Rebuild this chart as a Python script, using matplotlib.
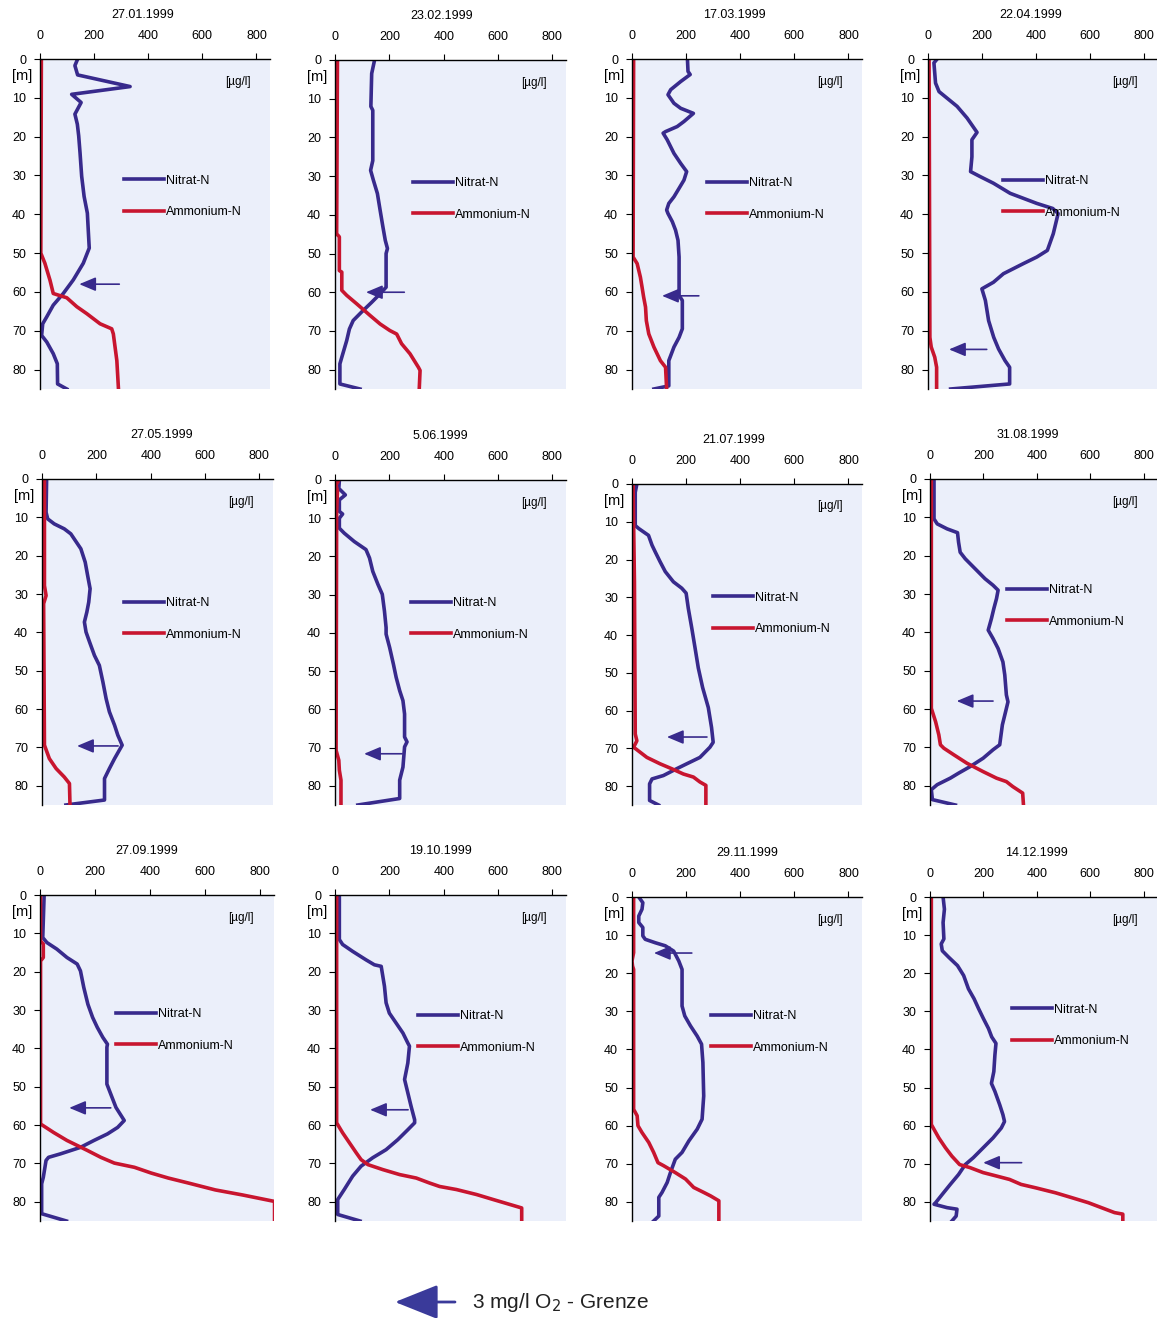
import matplotlib
matplotlib.use('Agg')
import matplotlib.pyplot as plt
from matplotlib.patches import FancyArrowPatch

plt.rcParams['font.family'] = ['Liberation Sans', 'DejaVu Sans']

#######################################################################
# Profile data: depth [m] and concentration [ug/l]
#######################################################################
dates = ['27.01.1999', '23.02.1999', '17.03.1999', '22.04.1999',
         '27.05.1999', '5.06.1999', '21.07.1999', '31.08.1999',
         '27.09.1999', '19.10.1999', '29.11.1999', '14.12.1999']

nitrat_depth = [
    [0.2, 1.7, 4.1, 7.1, 9.1, 11.2, 14.2, 16.8, 19.8, 24.2, 30.2, 35.4, 39.7, 44.9, 48.7, 52.6, 56.9, 60.4, 63.4, 66.4, 68.2, 71.2, 72.9, 75.9, 78.5, 83.7, 85],
    [0.2, 3.5, 12, 13, 26, 28.5, 31, 34.5, 38.8, 43, 46.6, 48.7, 50, 58.7, 60.4, 62.6, 65.1, 67.3, 69.5, 72.5, 76.8, 78.5, 83.7, 85],
    [0.2, 3.2, 4, 5.8, 7.9, 9.2, 11.4, 12.7, 14, 16.1, 17.4, 18.7, 19.1, 20.8, 24.3, 26.9, 29, 31.2, 33.3, 35.5, 37.2, 38.9, 39.8, 41.9, 44.1, 46.7, 51, 60.9, 62.2, 69.5, 71.7, 74.2, 77.7, 84.2, 85],
    [0, 1, 6.2, 8.4, 10.1, 12.2, 15.2, 18.9, 20.8, 25.2, 29, 30.3, 32, 34.6, 37.2, 38.5, 39.8, 45, 49.3, 51, 52.7, 55.3, 57.5, 59.2, 62.2, 67.4, 71.7, 74.7, 77.7, 79.4, 83.7, 85],
    [0, 8.7, 10.4, 11.7, 13, 14.3, 18.2, 21.7, 25.2, 28.6, 32.1, 34.7, 37.3, 39.9, 42.5, 46, 48.6, 52.9, 57.3, 60.7, 64.2, 66.8, 69.4, 72.9, 75.5, 78.1, 83.7, 85],
    [0.2, 2.2, 3.9, 5.2, 8.2, 8.9, 10, 12.6, 13.9, 16.1, 18.2, 20.4, 23.9, 27.3, 29.9, 34.3, 38.6, 40.3, 43.8, 48.2, 51.6, 55.1, 57.7, 61.2, 67.2, 68.5, 69.8, 75.1, 78.5, 83.3, 85],
    [0, 2.2, 11, 11.8, 13.6, 16.2, 18, 20.6, 23.2, 25.9, 27.6, 28.9, 32.9, 38.2, 43.4, 48.7, 53.9, 59.2, 64.5, 68.4, 69.7, 72.4, 74.1, 75.4, 77.2, 78.1, 79.4, 83.8, 85],
    [0, 10.4, 11.7, 13, 14, 16.5, 19.1, 20.8, 23.4, 26, 27.7, 29, 31.2, 33.8, 36.4, 39.4, 41.6, 44.2, 47.7, 51.1, 56.3, 58.1, 60.7, 64.1, 69.3, 70.6, 72.8, 75, 76.7, 78, 79.7, 81, 83.6, 85],
    [0, 11.1, 12.4, 14.1, 16.3, 18, 19.8, 24.1, 28.5, 31.9, 34.5, 37.1, 38.9, 39.7, 49.3, 51.9, 55.4, 58.8, 60.6, 62.3, 64, 65.8, 67.5, 68.4, 69.2, 73.6, 75.3, 83.1, 85],
    [0, 11.6, 12.9, 14.7, 16.9, 18.2, 18.6, 23.8, 28.1, 30.8, 33.4, 36, 38.6, 39.4, 43.8, 48.1, 51.6, 55.1, 58.6, 59.4, 61.2, 63.8, 66.4, 68.5, 70.7, 73.3, 76.8, 79.4, 83.3, 85],
    [0, 1.5, 3.2, 5, 6.7, 8, 10.2, 11.1, 12, 12.8, 14.2, 16.8, 19, 28.6, 31.2, 33.8, 36.5, 38.6, 43.4, 52.2, 58.3, 60.9, 64, 67, 68.8, 72.3, 74.9, 77.5, 78.8, 83.7, 85],
    [0, 3.2, 6.7, 11, 12.3, 14.1, 15.8, 18, 20.6, 24.1, 26.7, 29.3, 31.9, 34.5, 36.7, 38.4, 41.5, 45.8, 48.9, 51, 54.5, 57.1, 58.9, 60.6, 63.2, 65.8, 68.4, 70.2, 72.8, 75.4, 78, 80.2, 80.6, 81.5, 81.9, 83.7, 85],
]
nitrat_value = [
    [138, 129, 139, 333, 117, 152, 129, 138, 143, 148, 154, 163, 175, 179, 182, 160, 123, 86, 49, 25, 10, 6, 25, 49, 64, 65, 99],
    [145, 135, 132, 139, 139, 131, 141, 156, 166, 176, 185, 193, 188, 188, 166, 135, 98, 67, 53, 43, 25, 18, 18, 92],
    [205, 207, 215, 180, 143, 133, 155, 180, 227, 192, 167, 124, 115, 130, 155, 180, 202, 192, 174, 155, 136, 128, 133, 149, 161, 170, 174, 174, 186, 186, 174, 155, 136, 136, 81],
    [34, 22, 28, 41, 71, 108, 145, 182, 163, 163, 158, 194, 243, 305, 404, 463, 483, 465, 443, 404, 354, 280, 243, 200, 213, 225, 244, 262, 286, 303, 303, 84],
    [17, 15, 21, 45, 82, 106, 143, 159, 168, 177, 172, 165, 156, 162, 175, 193, 211, 224, 236, 248, 267, 279, 295, 267, 248, 230, 230, 88],
    [16, 14, 38, 16, 16, 28, 16, 16, 34, 71, 114, 127, 139, 158, 174, 182, 188, 188, 201, 215, 225, 238, 250, 256, 256, 265, 256, 250, 238, 238, 84],
    [18, 12, 12, 25, 61, 74, 86, 104, 123, 153, 184, 200, 208, 221, 233, 245, 261, 282, 294, 300, 288, 251, 202, 165, 116, 74, 65, 65, 98],
    [15, 15, 27, 64, 103, 107, 113, 132, 169, 206, 236, 255, 249, 239, 230, 218, 236, 255, 273, 280, 286, 292, 283, 271, 261, 236, 199, 150, 107, 76, 27, 5, 9, 95],
    [15, 10, 25, 61, 98, 135, 147, 159, 174, 191, 208, 228, 245, 243, 243, 257, 276, 306, 282, 245, 196, 147, 74, 31, 22, 12, 6, 6, 96],
    [16, 16, 28, 65, 114, 145, 170, 182, 188, 200, 225, 250, 268, 274, 268, 256, 268, 280, 293, 293, 268, 231, 188, 139, 96, 65, 34, 10, 10, 92],
    [25, 40, 37, 25, 25, 40, 40, 49, 86, 123, 154, 173, 185, 185, 195, 216, 241, 257, 262, 265, 259, 241, 210, 185, 160, 142, 130, 111, 99, 99, 80],
    [49, 54, 49, 52, 42, 46, 70, 103, 126, 144, 165, 182, 200, 219, 231, 247, 243, 239, 230, 243, 261, 273, 279, 267, 236, 199, 162, 132, 107, 76, 46, 21, 15, 64, 101, 98, 82],
]

ammonium_depth = [
    [0, 50, 52.6, 57, 60.4, 61.5, 63.8, 65.6, 68.2, 69.5, 70.8, 77.7, 85],
    [0, 44.9, 45.7, 54.4, 54.8, 59.5, 60.8, 63, 66, 68.2, 69.9, 70.8, 73.3, 75.9, 79.4, 80.2, 85],
    [0, 51, 52.7, 56.2, 58.7, 61.3, 63.9, 67.4, 70.8, 74.2, 77.7, 79.4, 85],
    [0, 71.7, 74.2, 76.8, 79.4, 85],
    [0, 27.8, 30.4, 32.5, 69.4, 72.9, 75.5, 77.7, 79.4, 85],
    [0, 1.3, 3, 8.2, 70.7, 73.3, 75.9, 78.5, 85],
    [0, 25.9, 66.2, 68, 69.7, 72.4, 74.1, 75.4, 76.8, 77.6, 78.9, 79.8, 85],
    [0, 59.8, 63.3, 66.7, 69.3, 70.2, 71.9, 74.1, 76.3, 78, 78.9, 80.2, 81.9, 85],
    [0, 12, 12.8, 16.3, 17.2, 59.7, 61.9, 64, 66.6, 68.4, 69.9, 71, 72.5, 73.8, 75.1, 76.9, 78.2, 79.9, 85],
    [0, 59.4, 62, 64.6, 67.2, 69, 70.3, 71.6, 72.9, 73.8, 75.1, 76, 76.8, 78.1, 79.4, 80.7, 81.6, 85],
    [0, 14.6, 16.8, 18.1, 19, 55.7, 57.4, 60, 61.8, 64.4, 67, 69.7, 70.5, 72.3, 74, 76.2, 77.5, 78.4, 79.7, 85],
    [0, 59.7, 63.2, 65.8, 68, 70.2, 71, 72.3, 73.2, 74.1, 75.4, 76.3, 77.6, 78.9, 80.2, 81.5, 82.8, 83.2, 85],
]
ammonium_value = [
    [5, 3, 18, 37, 49, 99, 136, 173, 222, 265, 271, 284, 290],
    [9, 6, 16, 16, 25, 25, 43, 80, 129, 166, 202, 227, 245, 276, 307, 313, 310],
    [6, 4, 19, 31, 37, 43, 50, 53, 62, 81, 105, 124, 128],
    [4, 7, 12, 25, 32, 32],
    [9, 9, 15, 6, 9, 27, 52, 82, 101, 103],
    [14, 4, 9, 6, 4, 14, 16, 22, 22],
    [4, 9, 12, 18, 6, 55, 104, 147, 190, 227, 251, 273, 273],
    [5, 5, 21, 33, 39, 52, 89, 138, 199, 249, 286, 310, 347, 350],
    [2, 2, 12, 12, 2, 2, 49, 98, 172, 221, 270, 343, 404, 466, 539, 637, 735, 852, 852],
    [6, 6, 28, 53, 78, 96, 121, 176, 238, 299, 348, 385, 447, 521, 582, 644, 687, 687],
    [6, 6, 0, 2, 6, 6, 19, 22, 37, 62, 80, 96, 117, 160, 198, 228, 265, 290, 321, 321],
    [5, 5, 33, 58, 82, 111, 150, 199, 249, 298, 341, 396, 470, 532, 593, 642, 691, 722, 722],
]

# 3 mg/l O2 boundary: depth and arrow extent (tip, tail) in ug/l units
o2_depth = [58.0, 60.0, 61.0, 74.8, 69.6, 71.6, 67.0, 57.9, 55.5, 56.0, 14.7, 69.7]
arrow_tip = [145, 114, 111, 78, 129, 107, 129, 100, 106, 129, 81, 199]
arrow_tail = [293, 255, 247, 218, 280, 247, 277, 236, 257, 269, 221, 343]

#######################################################################
# Layout (pixel boxes: left, top, right, bottom)
#######################################################################
W, H = 1157, 1318
boxes = [(40, 59, 270, 389), (335, 60, 566, 389), (632, 59, 862, 389), (928, 59, 1157, 389),
         (42, 479, 273, 805), (335, 480, 566, 805), (632, 484, 862, 805), (930, 479, 1157, 805),
         (40, 895, 274, 1221), (335, 895, 566, 1221), (632, 897, 862, 1221), (930, 897, 1157, 1221)]
title_x = [0.448, 0.463, 0.443, 0.45, 0.52, 0.455, 0.443, 0.43, 0.457, 0.455, 0.5, 0.47]
legend_pos = [(0.365, 0.364), (0.338, 0.371), (0.326, 0.373), (0.328, 0.367),
              (0.355, 0.377), (0.329, 0.375), (0.352, 0.349), (0.339, 0.337),
              (0.325, 0.362), (0.359, 0.368), (0.343, 0.364), (0.361, 0.343)]

NO3_C = '#382A8C'
NH4_C = '#C8152F'
BG = '#EBEFFA'

fig = plt.figure(figsize=(W / 100, H / 100), dpi=100)

for i in range(12):
    l, t, r, b = boxes[i]
    ax = fig.add_axes([l / W, 1 - b / H, (r - l) / W, (b - t) / H])
    ax.set_facecolor(BG)
    ax.set_xlim(0, 850)
    ax.set_ylim(85, 0)
    ax.xaxis.tick_top()
    ax.set_xticks([0, 200, 400, 600, 800])
    ax.set_yticks(range(0, 81, 10))
    for s in ['right', 'bottom']:
        ax.spines[s].set_visible(False)
    for s in ['left', 'top']:
        ax.spines[s].set_linewidth(1.0)
    ax.tick_params(axis='x', labelsize=9, length=4, width=0.8, pad=8)
    ax.tick_params(axis='y', labelsize=9, length=4, width=0.8, pad=6)

    ax.plot(nitrat_value[i], nitrat_depth[i], color=NO3_C, lw=2.6, label='Nitrat-N')
    ax.plot(ammonium_value[i], ammonium_depth[i], color=NH4_C, lw=2.6, label='Ammonium-N')

    ax.annotate('', xy=(arrow_tip[i], o2_depth[i]), xytext=(arrow_tail[i], o2_depth[i]),
                arrowprops=dict(arrowstyle='-|>,head_length=1.0,head_width=0.42',
                                color=NO3_C, lw=1.2, shrinkA=0, shrinkB=0, mutation_scale=10))

    fx, fy = legend_pos[i]
    ax.legend(loc='upper left', bbox_to_anchor=(fx, 1 - fy + 0.014), frameon=False,
              fontsize=9, handlelength=3.2, handletextpad=0.15, labelspacing=1.55,
              borderpad=0, borderaxespad=0)

    hpx = b - t
    ax.text(title_x[i], 1 + 44 / hpx, dates[i], transform=ax.transAxes,
            ha='center', va='center', fontsize=9)
    ax.text(-0.035, 4.5, '[m]', transform=ax.get_yaxis_transform(),
            ha='right', va='center', fontsize=10.5)
    ax.text(0.86, 0.93, '[µg/l]', transform=ax.transAxes,
            ha='center', va='center', fontsize=8.5)

# key for the O2 boundary arrow
fig.add_artist(FancyArrowPatch((455 / W, 1 - 1302 / H), (395 / W, 1 - 1302 / H),
                               transform=fig.transFigure,
                               arrowstyle='-|>,head_length=1.5,head_width=0.6',
                               mutation_scale=18, color='#3A3A9A', lw=2, shrinkA=0, shrinkB=0))
fig.text(472 / W, 1 - 1302 / H, '3 mg/l O$_2$ - Grenze', fontsize=15,
         ha='left', va='center', color='#222222')

fig.savefig('out.png', dpi=100)
